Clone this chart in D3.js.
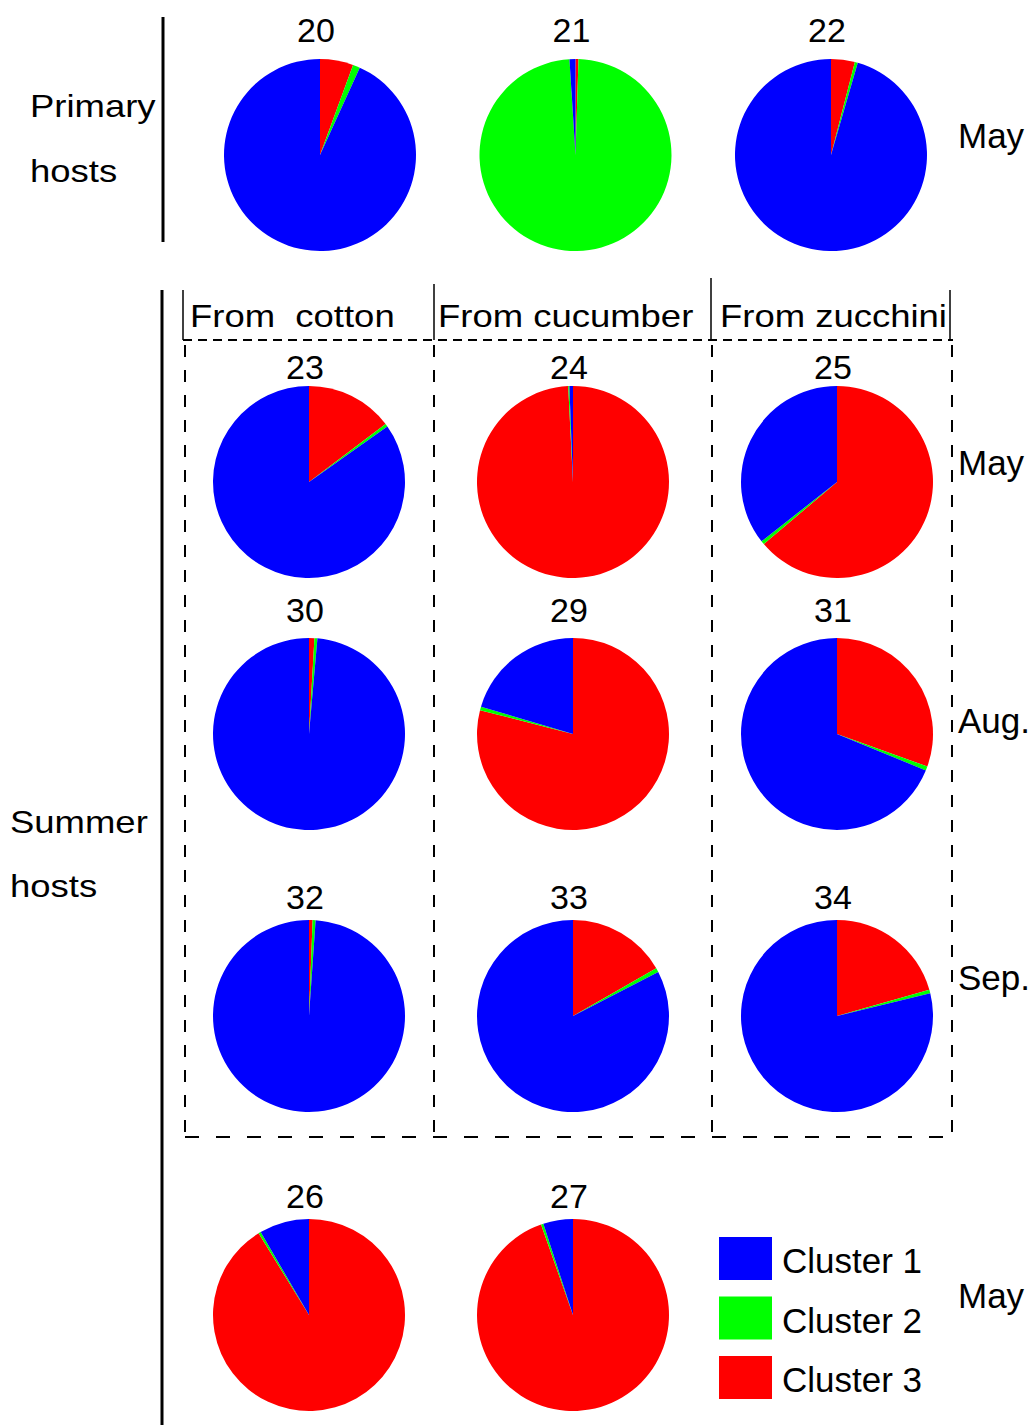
<!DOCTYPE html>
<html>
<head>
<meta charset="utf-8">
<script src="https://cdn.jsdelivr.net/npm/d3@7"></script>
<style>
  body { margin: 0; background: #fff; }
  svg { display: block; }
  text { font-family: "Liberation Sans", Arial, Helvetica, sans-serif; fill: #000; white-space: pre; }
</style>
</head>
<body>
<svg id="chart" width="1032" height="1425"></svg>
<script>
// Genetic cluster membership (%) per sampled population
const clusterNames = ["Cluster 1", "Cluster 2", "Cluster 3"];
const clusterColors = ["#0000ff", "#00ff00", "#ff0000"];

const sampleIds = ["20", "21", "22", "23", "24", "25", "30", "29", "31", "32", "33", "34", "26", "27"];
const cluster1 = [93.2, 1.0, 95.5, 84.8, 0.6, 35.6, 98.6, 20.4, 68.8, 98.9, 82.6, 78.8, 8.4, 5.0];
const cluster2 = [1.2, 98.5, 0.5, 0.5, 0.2, 0.6, 0.5, 0.6, 0.7, 0.5, 0.7, 0.6, 0.4, 0.4];
const cluster3 = [5.6, 0.5, 4.0, 14.7, 99.2, 63.8, 0.9, 79.0, 30.5, 0.6, 16.7, 20.6, 91.2, 94.6];

// Panel row and host column for every sample
const sampleRow = ["primary", "primary", "primary", "may", "may", "may", "aug", "aug", "aug", "sep", "sep", "sep", "summerMay", "summerMay"];
const sampleCol = [0, 1, 2, 0, 1, 2, 0, 1, 2, 0, 1, 2, 0, 1];

const rowKeys = ["primary", "may", "aug", "sep", "summerMay"];
const monthLabels = ["May", "May", "Aug.", "Sep.", "May"];
const hostHeaders = ["From  cotton", "From cucumber", "From zucchini"];
const groupLabels = [["Primary", "hosts"], ["Summer", "hosts"]];
const legendLabels = clusterNames;

const svg = d3.select("#chart");
const radius = 96;

// Scales placing each pie
const xPrimary = d3.scalePoint().domain([0, 1, 2]).range([320, 831]);
const xSummer = d3.scalePoint().domain([0, 1, 2]).range([309, 837]);
const yRow = d3.scaleOrdinal().domain(rowKeys).range([155, 482, 734, 1016, 1315]);
const yNumber = d3.scaleOrdinal().domain(rowKeys).range([42, 379, 622, 909, 1208]);
const yMonth = d3.scaleOrdinal().domain(rowKeys).range([148, 475, 733, 990, 1308]);
const color = d3.scaleOrdinal().domain(clusterNames).range(clusterColors);

const samples = sampleIds.map((id, i) => ({
  id,
  row: sampleRow[i],
  col: sampleCol[i],
  values: [
    { cluster: "Cluster 3", value: cluster3[i] },
    { cluster: "Cluster 2", value: cluster2[i] },
    { cluster: "Cluster 1", value: cluster1[i] }
  ]
}));

const pie = d3.pie().sort(null).value(d => d.value);
const arc = d3.arc().innerRadius(0).outerRadius(radius);

const px = d => (d.row === "primary" ? xPrimary(d.col) : xSummer(d.col));

// Pies
const pies = svg.append("g").selectAll("g.pie")
  .data(samples)
  .join("g")
  .attr("class", "pie")
  .attr("transform", d => `translate(${px(d)},${yRow(d.row)})`);

pies.selectAll("path")
  .data(d => pie(d.values))
  .join("path")
  .attr("d", arc)
  .attr("fill", d => color(d.data.cluster));

// Population numbers
svg.append("g").selectAll("text")
  .data(samples)
  .join("text")
  .attr("x", d => px(d) - 4)
  .attr("y", d => yNumber(d.row))
  .attr("text-anchor", "middle")
  .attr("font-size", 34)
  .text(d => d.id);

// Month labels on the right
svg.append("g").selectAll("text")
  .data(rowKeys)
  .join("text")
  .attr("x", 958)
  .attr("y", d => yMonth(d))
  .attr("font-size", 35)
  .text((d, i) => monthLabels[i]);

// Group labels with their vertical bars
const stretched = (g, txt, x, y) =>
  g.append("text").attr("transform", `translate(${x},${y}) scale(1.14,1)`)
    .attr("font-size", 32).text(txt);

const left = svg.append("g");
stretched(left, groupLabels[0][0], 30, 117);
stretched(left, groupLabels[0][1], 30, 182);
stretched(left, groupLabels[1][0], 10, 833);
stretched(left, groupLabels[1][1], 10, 897);
left.append("line").attr("x1", 163).attr("x2", 163).attr("y1", 17).attr("y2", 242)
  .attr("stroke", "#000").attr("stroke-width", 3);
left.append("line").attr("x1", 162).attr("x2", 162).attr("y1", 290).attr("y2", 1425)
  .attr("stroke", "#000").attr("stroke-width", 3);

// Host column headers and separators
const header = svg.append("g");
const headerX = [190, 438, 720];
hostHeaders.forEach((h, i) => stretched(header, h, headerX[i], 327));
header.selectAll("line")
  .data([[183, 290], [434, 284], [711, 278], [950, 290]])
  .join("line")
  .attr("x1", d => d[0]).attr("x2", d => d[0])
  .attr("y1", d => d[1]).attr("y2", 340)
  .attr("stroke", "#000").attr("stroke-width", 1.5);

// Dashed frame around the summer-host grid
const frame = svg.append("g").attr("stroke", "#000").attr("stroke-width", 2).attr("fill", "none");
frame.append("line").attr("x1", 183).attr("x2", 953).attr("y1", 340).attr("y2", 340)
  .attr("stroke-dasharray", "9,6");
frame.append("line").attr("x1", 185).attr("x2", 953).attr("y1", 1137).attr("y2", 1137)
  .attr("stroke-dasharray", "14,17");
frame.selectAll("line.v")
  .data([185, 434, 712, 952])
  .join("line")
  .attr("class", "v")
  .attr("x1", d => d).attr("x2", d => d)
  .attr("y1", 345).attr("y2", 1142)
  .attr("stroke-dasharray", "12,13");

// Legend
const legend = svg.append("g").attr("transform", "translate(719,1237)");
const legendRows = legend.selectAll("g")
  .data(legendLabels)
  .join("g")
  .attr("transform", (d, i) => `translate(0,${i * 59.5})`);
legendRows.append("rect")
  .attr("width", 53).attr("height", 43)
  .attr("fill", d => color(d));
legendRows.append("text")
  .attr("x", 63).attr("y", 36)
  .attr("font-size", 35)
  .text(d => d);
</script>
</body>
</html>
